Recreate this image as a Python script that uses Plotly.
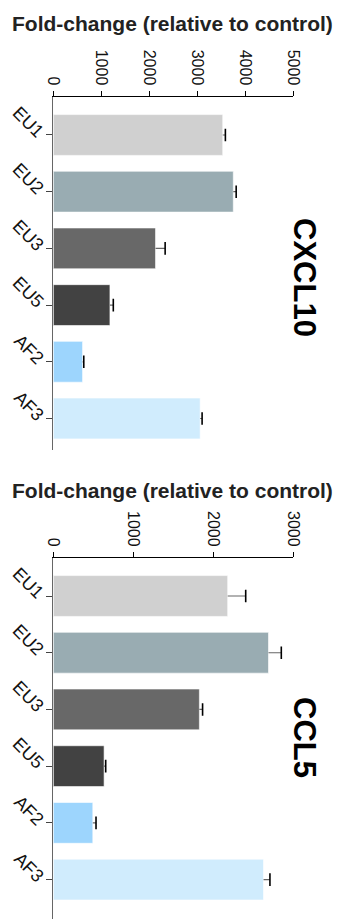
import plotly.graph_objects as go

categories = ["EU1", "EU2", "EU3", "EU5", "AF2", "AF3"]
bar_colors = ["#d0d0d0", "#99acb2", "#686868", "#424242", "#9dd5fd", "#d0ecfd"]

cxcl10_values = [3530, 3750, 2130, 1180, 610, 3060]
cxcl10_errors = [55, 60, 200, 70, 25, 40]

ccl5_values = [2180, 2690, 1826, 635, 494, 2628]
ccl5_errors = [225, 160, 40, 20, 40, 80]

x_title = "Fold-change (relative to control)"
panel_labels = ["CXCL10", "CCL5"]

# page body has an 8px default margin; size the figure to fit the window
OFF = 8
W, H = 343 - OFF, 919 - OFF
FONT = "Liberation Sans, Arial, sans-serif"


def px(x):
    return (x - OFF) / W


def py(y):
    return 1 - (y - OFF) / H


fig = go.Figure()


def add_panel(values, errors, xa, ya):
    fig.add_trace(go.Bar(
        x=values, y=categories, orientation="h",
        marker=dict(color=bar_colors, line=dict(color="rgba(255,255,255,0.6)", width=1)),
        width=0.72, xaxis=xa, yaxis=ya, showlegend=False,
    ))
    ex, ey = [], []
    for c, v, e in zip(categories, values, errors):
        ex += [v, v + e, None]
        ey += [c, c, None]
    fig.add_trace(go.Scatter(
        x=ex, y=ey, mode="lines", line=dict(color="#666666", width=1.2),
        xaxis=xa, yaxis=ya, showlegend=False, hoverinfo="skip",
    ))
    fig.add_trace(go.Scatter(
        x=[v + e for v, e in zip(values, errors)], y=categories, mode="markers",
        marker=dict(symbol="line-ns", size=9, line=dict(width=1.6, color="black")),
        xaxis=xa, yaxis=ya, showlegend=False, hoverinfo="skip",
    ))


add_panel(cxcl10_values, cxcl10_errors, "x", "y")
add_panel(ccl5_values, ccl5_errors, "x2", "y2")

xdom = [px(53.3), px(293.3)]
xcommon = dict(
    side="top", showline=True, linecolor="black", linewidth=1.2,
    ticks="outside", ticklen=5, tickcolor="black", tickwidth=1.2,
    tickangle=90, tickfont=dict(family=FONT, size=16, color="#111"),
    showgrid=False, zeroline=False, domain=xdom, automargin=False,
)
ycommon = dict(
    type="category", showline=True, linecolor="#666666", linewidth=1.2,
    ticks="outside", ticklen=6, tickcolor="#444444", tickwidth=1,
    tickangle=45, tickfont=dict(family=FONT, size=18, color="#111"),
    showgrid=False, zeroline=False, automargin=False,
)

fig.update_layout(
    width=W, height=H, margin=dict(l=0, r=0, t=0, b=0),
    template="none", paper_bgcolor="white", plot_bgcolor="white",
    xaxis=dict(**xcommon, range=[0, 5000], dtick=1000, anchor="y"),
    yaxis=dict(**ycommon, domain=[py(450), py(97)], range=[5.556, -0.67], anchor="x"),
    xaxis2=dict(**xcommon, range=[0, 3000], dtick=1000, anchor="y2"),
    yaxis2=dict(**ycommon, domain=[0, py(558.3)], range=[5.695, -0.665], anchor="x2"),
)

annotations = [
    dict(text="<b>" + x_title + "</b>", x=px(10), y=py(24), xanchor="left", yanchor="middle",
         xref="paper", yref="paper", showarrow=False, font=dict(family=FONT, size=21, color="#222")),
    dict(text="<b>" + x_title + "</b>", x=px(10), y=py(490), xanchor="left", yanchor="middle",
         xref="paper", yref="paper", showarrow=False, font=dict(family=FONT, size=21, color="#222")),
    dict(text="<b>" + panel_labels[0] + "</b>", x=px(305), y=py(277), xanchor="center", yanchor="middle",
         xref="paper", yref="paper", showarrow=False, textangle=90, font=dict(family=FONT, size=31, color="black")),
    dict(text="<b>" + panel_labels[1] + "</b>", x=px(305), y=py(737), xanchor="center", yanchor="middle",
         xref="paper", yref="paper", showarrow=False, textangle=90, font=dict(family=FONT, size=31, color="black")),
]
fig.update_layout(annotations=annotations)

fig.write_html("out.html")
